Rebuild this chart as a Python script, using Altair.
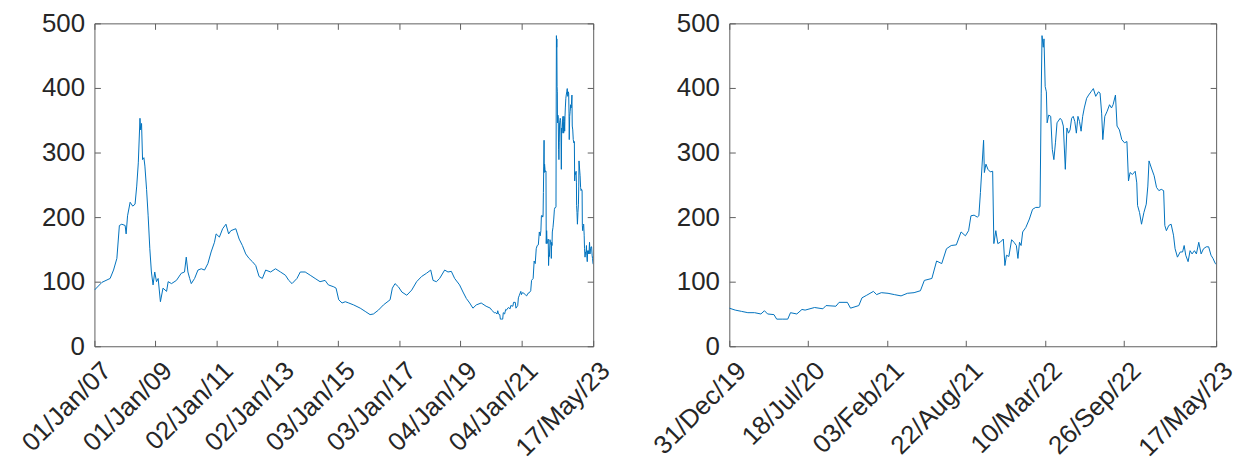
import altair as alt
import pandas as pd

# ---- data (date, value) ----
dates_2007_2014 = [
    "2007-01-01", "2007-04-01", "2007-07-08", "2007-08-18", "2007-09-27", "2007-10-27",
    "2007-11-25", "2008-01-04", "2008-01-16", "2008-02-02", "2008-03-04", "2008-04-04",
    "2008-05-02", "2008-05-22", "2008-06-10", "2008-06-30", "2008-07-08", "2008-07-19",
    "2008-07-31", "2008-08-16", "2008-08-28", "2008-09-17", "2008-10-06", "2008-10-26",
    "2008-11-14", "2008-12-04", "2008-12-24", "2009-01-14", "2009-02-03", "2009-03-02",
    "2009-04-02", "2009-05-15", "2009-06-03", "2009-07-13", "2009-09-10", "2009-11-07",
    "2009-12-16", "2010-01-06", "2010-01-26", "2010-02-16", "2010-03-07", "2010-04-16",
    "2010-05-26", "2010-07-05", "2010-08-13", "2010-09-22", "2010-10-31", "2010-12-10",
    "2010-12-30", "2011-02-07", "2011-03-18", "2011-04-27", "2011-05-29", "2011-06-25",
    "2011-08-23", "2011-10-02", "2011-11-10", "2011-12-20", "2012-01-29", "2012-03-09",
    "2012-04-18", "2012-05-28", "2012-07-06", "2012-08-15", "2012-10-13", "2012-12-11",
    "2013-02-09", "2013-04-09", "2013-05-19", "2013-06-27", "2013-08-25", "2013-10-04",
    "2013-12-02", "2014-01-31", "2014-03-31", "2014-05-29", "2014-07-28", "2014-09-06",
    "2014-11-10", "2014-12-07",
]
values_2007_2014 = [
    87, 99, 105, 118, 136, 187,
    189, 187, 174, 202, 223, 217,
    220, 248, 284, 353, 335, 345,
    289, 292, 279, 243, 202, 151,
    115, 95, 115, 100, 105, 69,
    90, 85, 100, 97, 102, 113,
    115, 138, 115, 105, 97, 105,
    118, 120, 118, 128, 146, 161,
    174, 169, 182, 189, 174, 179,
    182, 166, 156, 143, 136, 131,
    125, 108, 105, 118, 115, 120,
    115, 110, 102, 97, 105, 115,
    115, 110, 105, 100, 102, 95,
    92, 90,
]

dates_2015_2019 = [
    "2015-01-08", "2015-02-17", "2015-03-28", "2015-05-08", "2015-07-06", "2015-09-23",
    "2015-11-21", "2016-01-19", "2016-02-28", "2016-04-28", "2016-06-27", "2016-09-15",
    "2016-10-12", "2016-11-13", "2016-12-24", "2017-02-03", "2017-04-03", "2017-06-01",
    "2017-07-30", "2017-09-27", "2017-11-25", "2018-01-15", "2018-02-12", "2018-03-24",
    "2018-05-02", "2018-07-01", "2018-08-10", "2018-09-19", "2018-10-29", "2018-12-27",
    "2019-02-06", "2019-03-18", "2019-04-27", "2019-06-05", "2019-07-15", "2019-09-12",
    "2019-11-10",
]
values_2015_2019 = [
    72, 67, 69, 67, 64, 59,
    54, 49, 50, 56, 64, 72,
    90, 97, 92, 84, 79, 87,
    100, 108, 113, 118, 102, 100,
    105, 118, 115, 116, 105, 95,
    84, 74, 67, 59, 64, 67,
    62,
]

dates_2020_2023 = [
    "2019-12-31", "2020-01-15", "2020-01-31", "2020-02-16", "2020-03-04", "2020-03-20",
    "2020-03-29", "2020-04-06", "2020-04-22", "2020-04-29", "2020-05-13", "2020-05-27",
    "2020-06-03", "2020-06-19", "2020-07-02", "2020-07-10", "2020-08-03", "2020-08-24",
    "2020-09-01", "2020-09-26", "2020-10-04", "2020-10-25", "2020-11-02", "2020-11-23",
    "2020-12-01", "2020-12-13", "2020-12-30", "2021-01-07", "2021-01-19", "2021-02-05",
    "2021-02-21", "2021-03-10", "2021-03-26", "2021-04-12", "2021-04-28", "2021-05-08",
    "2021-05-27", "2021-06-08", "2021-06-21", "2021-07-03", "2021-07-15", "2021-07-28",
    "2021-08-09", "2021-08-20", "2021-08-28", "2021-09-03", "2021-09-11", "2021-09-19",
    "2021-09-23", "2021-09-27", "2021-10-01", "2021-10-05", "2021-10-07", "2021-10-11",
    "2021-10-16", "2021-10-22", "2021-10-28", "2021-10-31", "2021-11-05", "2021-11-10",
    "2021-11-16", "2021-11-24", "2021-11-28", "2021-12-02", "2021-12-08", "2021-12-15",
    "2021-12-21", "2021-12-27", "2021-12-31", "2022-01-04", "2022-01-08", "2022-01-12",
    "2022-01-20", "2022-01-29", "2022-02-06", "2022-02-14", "2022-02-22", "2022-02-25",
    "2022-02-28", "2022-03-02", "2022-03-05", "2022-03-07", "2022-03-10", "2022-03-13",
    "2022-03-15", "2022-03-19", "2022-03-24", "2022-03-28", "2022-04-01", "2022-04-05",
    "2022-04-09", "2022-04-17", "2022-04-21", "2022-04-25", "2022-04-30", "2022-05-04",
    "2022-05-08", "2022-05-12", "2022-05-16", "2022-05-20", "2022-05-24", "2022-05-28",
    "2022-06-01", "2022-06-05", "2022-06-09", "2022-06-13", "2022-06-17", "2022-06-23",
    "2022-06-28", "2022-07-04", "2022-07-10", "2022-07-16", "2022-07-23", "2022-07-27",
    "2022-07-31", "2022-08-03", "2022-08-08", "2022-08-14", "2022-08-20", "2022-08-25",
    "2022-08-29", "2022-09-04", "2022-09-08", "2022-09-14", "2022-09-20", "2022-09-27",
    "2022-10-03", "2022-10-07", "2022-10-11", "2022-10-17", "2022-10-24", "2022-10-28",
    "2022-10-30", "2022-11-04", "2022-11-09", "2022-11-15", "2022-11-21", "2022-11-25",
    "2022-11-28", "2022-12-04", "2022-12-11", "2022-12-17", "2022-12-23", "2022-12-29",
    "2023-01-04", "2023-01-07", "2023-01-11", "2023-01-17", "2023-01-23", "2023-01-29",
    "2023-02-02", "2023-02-08", "2023-02-15", "2023-02-21", "2023-02-25", "2023-03-01",
    "2023-03-07", "2023-03-12", "2023-03-17", "2023-03-23", "2023-03-28", "2023-04-03",
    "2023-04-09", "2023-04-15", "2023-04-22", "2023-04-28", "2023-05-04", "2023-05-09",
    "2023-05-15", "2023-05-17",
]
values_2020_2023 = [
    59, 56, 54, 52, 52, 50,
    55, 50, 49, 42, 42, 42,
    52, 50, 57, 56, 60, 58,
    63, 62, 68, 68, 59, 63,
    75, 79, 85, 80, 83, 82,
    80, 78, 82, 83, 86, 102,
    105, 132, 128, 151, 156, 157,
    177, 171, 179, 202, 203, 200,
    202, 238, 279, 319, 269, 282,
    274, 270, 271, 159, 179, 159,
    161, 166, 125, 141, 139, 165,
    161, 156, 136, 161, 156, 177,
    184, 197, 212, 215, 215, 216,
    392, 481, 463, 476, 402, 394,
    346, 358, 356, 305, 289, 315,
    346, 353, 350, 341, 274, 338,
    330, 335, 353, 356, 348, 330,
    356, 348, 333, 356, 369, 384,
    389, 394, 399, 387, 394, 392,
    361, 320, 356, 364, 374, 369,
    374, 389, 341, 335, 320, 315,
    317, 256, 269, 266, 271, 253,
    218, 207, 189, 207, 220, 248,
    287, 276, 264, 246, 241, 243,
    241, 187, 179, 187, 189, 172,
    151, 138, 146, 146, 156, 141,
    131, 148, 143, 148, 143, 161,
    143, 151, 154, 154, 141, 136,
    128, 127,
]

left_ticks = ["2007-01-01", "2009-01-01", "2011-01-02", "2013-01-02", "2015-01-03",
              "2017-01-03", "2019-01-04", "2021-01-04", "2023-05-17"]
right_ticks = ["2019-12-31", "2020-07-18", "2021-02-03", "2021-08-22", "2022-03-10",
               "2022-09-26", "2023-05-17"]
y_ticks = [0, 100, 200, 300, 400, 500]

BLUE = "#0072BD"
TXT = "#262626"
BOX = "#5f5f5f"
FONT = "Liberation Sans"
FS = 26

df_all = pd.DataFrame({
    "date": dates_2007_2014 + dates_2015_2019 + dates_2020_2023,
    "value": values_2007_2014 + values_2015_2019 + values_2020_2023,
})


def dt(s):
    y, m, d = (int(p) for p in s.split("-"))
    return alt.DateTime(year=y, month=m, date=d, utc=True)


def panel(df, ticks, w, h):
    xs = alt.Scale(type="utc", domain=[dt(ticks[0]), dt(ticks[-1])], nice=False)
    ys = alt.Scale(domain=[0, 500], nice=False)
    tv = [dt(t) for t in ticks]
    base = alt.Chart(df)
    main = base.mark_line(color=BLUE, strokeWidth=1, clip=True).encode(
        x=alt.X("date:T", scale=xs, title=None, axis=alt.Axis(
            orient="bottom", values=tv, format="%d/%b/%y", labelAngle=-45,
            labelAlign="right", labelBaseline="top", labelPadding=11,
            labelOffset=3, ticks=False, tickSize=0, domain=False,
            grid=False, labelOverlap=False, labelFlush=False, labelBound=False,
            labelFont=FONT, labelFontSize=FS, labelColor=TXT)),
        y=alt.Y("value:Q", scale=ys, title=None, axis=alt.Axis(
            orient="left", values=y_ticks, ticks=False, tickSize=0, domain=False,
            grid=False, labelPadding=10, labelOverlap=False, labelFlush=False,
            labelFont=FONT, labelFontSize=FS, labelColor=TXT)),
    )
    t1 = base.mark_line(opacity=0).encode(
        x=alt.X("date:T", scale=xs, title=None, axis=alt.Axis(
            orient="bottom", values=tv, labels=False, ticks=True, tickSize=6,
            offset=-6, domain=False, grid=False, tickColor=BOX, tickWidth=1)),
        y=alt.Y("value:Q", scale=ys, title=None, axis=alt.Axis(
            orient="left", values=y_ticks, labels=False, ticks=True, tickSize=6,
            offset=-6, domain=False, grid=False, tickColor=BOX, tickWidth=1)),
    )
    t2 = base.mark_line(opacity=0).encode(
        x=alt.X("date:T", scale=xs, title=None, axis=alt.Axis(
            orient="top", values=tv, labels=False, ticks=True, tickSize=6,
            offset=-6, domain=False, grid=False, tickColor=BOX, tickWidth=1)),
        y=alt.Y("value:Q", scale=ys, title=None, axis=alt.Axis(
            orient="right", values=y_ticks, labels=False, ticks=True, tickSize=6,
            offset=-6, domain=False, grid=False, tickColor=BOX, tickWidth=1)),
    )
    return alt.layer(main, t1, t2).resolve_axis(
        x="independent", y="independent").properties(width=w, height=h)


left = panel(df_all, left_ticks, 502, 325)
right = panel(df_all[df_all["date"] >= right_ticks[0]], right_ticks, 490, 325)

chart = alt.hconcat(left, right, spacing=137, bounds="flush").properties(
    padding={"left": 8, "top": 0, "right": 0, "bottom": -5},
    background="white",
).configure_view(
    stroke=BOX, strokeWidth=1
)

chart.save("out.html", embed_options={"renderer": "svg", "actions": False})
